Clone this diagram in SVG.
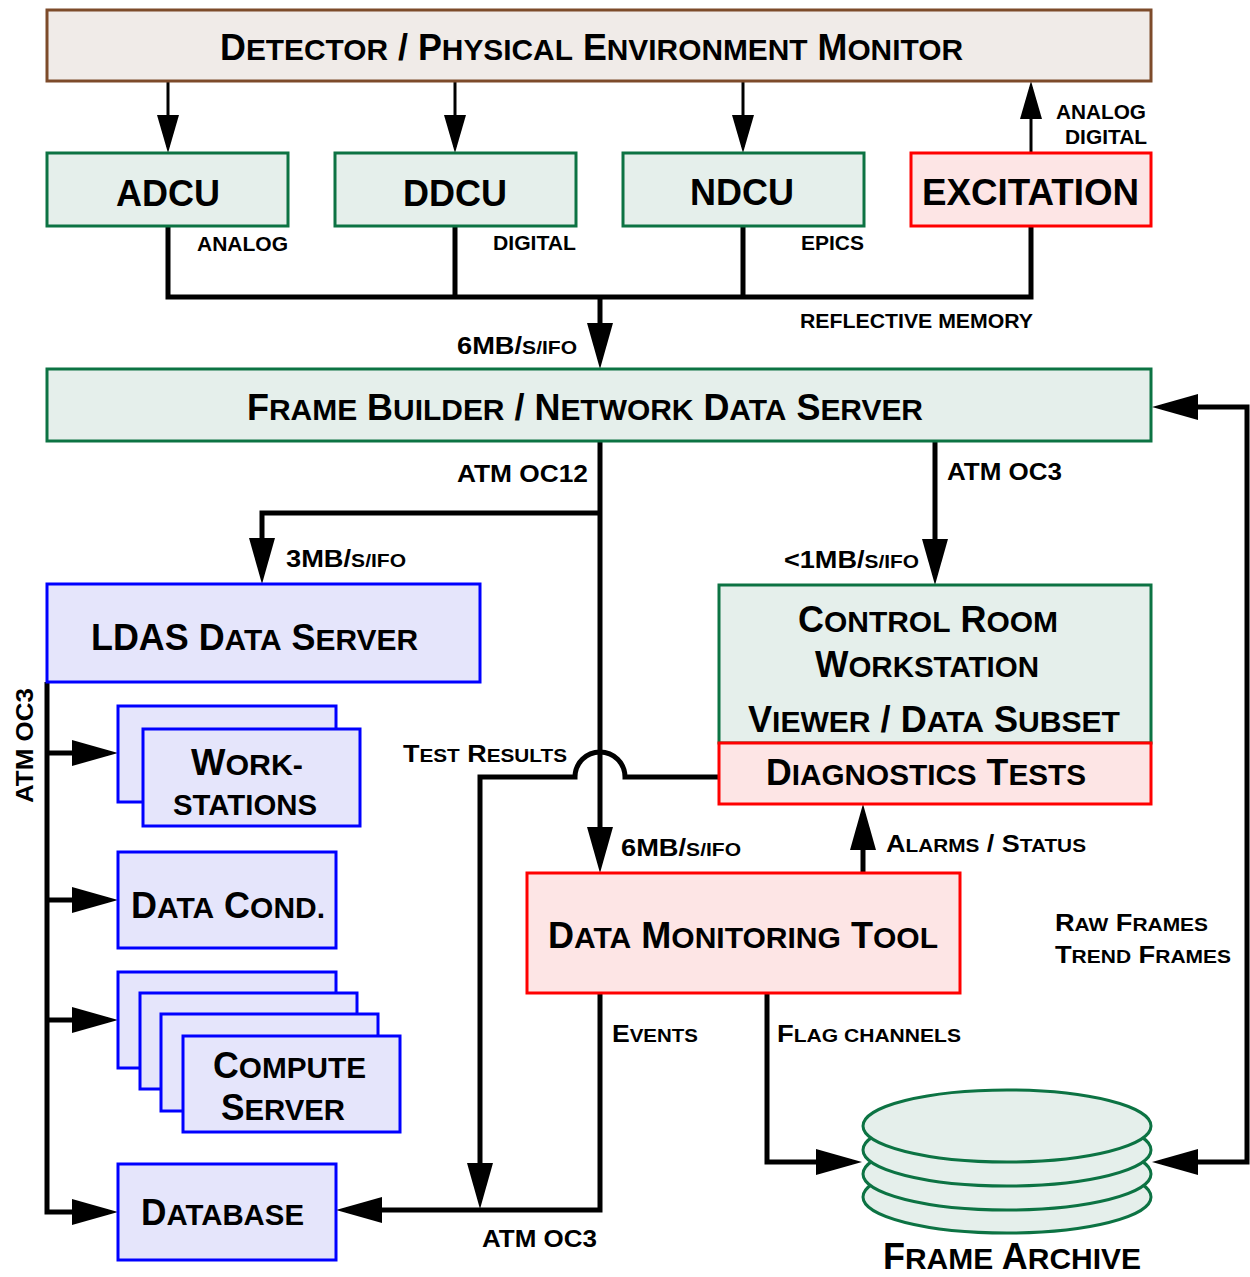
<svg xmlns="http://www.w3.org/2000/svg" width="1250" height="1277" viewBox="0 0 1250 1277">
<defs>
<style>
text{font-family:"Liberation Sans",Arial,Helvetica,sans-serif;font-weight:bold;fill:#000}
.b{font-size:36px}
.s{font-size:30px}
.m{font-size:24px}
.ms{font-size:18.5px}
.sm{font-size:21px}
.g{fill:#e5efeb;stroke:#0c7343;stroke-width:3}
.r{fill:#fde5e5;stroke:#ff0000;stroke-width:3}
.bl{fill:#e5e5fb;stroke:#0000ff;stroke-width:3}
.br{fill:#f0ebe8;stroke:#7d4b2a;stroke-width:3}
.c{fill:none;stroke:#000;stroke-width:5}
.ct{fill:none;stroke:#000;stroke-width:3}
</style>
<marker id="ak" markerUnits="userSpaceOnUse" markerWidth="46" markerHeight="26" viewBox="0 0 46 26" refX="36" refY="13" orient="auto-start-reverse"><path d="M0 0L46 13L0 26Z" fill="#000"/></marker>
<marker id="at" markerUnits="userSpaceOnUse" markerWidth="38" markerHeight="22" viewBox="0 0 38 22" refX="32" refY="11" orient="auto-start-reverse"><path d="M0 0L38 11L0 22Z" fill="#000"/></marker>
</defs>
<rect width="1250" height="1277" fill="#fff"/>

<g id="connectors">
<path class="ct" d="M168 81V147" marker-end="url(#at)"/>
<path class="ct" d="M455 81V147" marker-end="url(#at)"/>
<path class="ct" d="M743 81V147" marker-end="url(#at)"/>
<path class="ct" d="M1031 153V87" marker-end="url(#at)"/>
<path class="c" d="M168 226V297H1031V226M455 226V297M743 226V297"/>
<path class="c" d="M600 297V359" marker-end="url(#ak)"/>
<path class="c" d="M600 441V863" marker-end="url(#ak)"/>
<path class="c" d="M600 513H262V574" marker-end="url(#ak)"/>
<path class="c" d="M935 441V575" marker-end="url(#ak)"/>
<path class="c" d="M1162 407H1247V1162H1162" marker-start="url(#ak)" marker-end="url(#ak)"/>
<path class="c" d="M863 873V814" marker-end="url(#ak)"/>
<path class="c" d="M719 777H625A25 25 0 0 0 575 777H480V1199" marker-end="url(#ak)"/>
<path class="c" d="M600 993V1210H346" marker-end="url(#ak)"/>
<path class="c" d="M767 993V1162H852" marker-end="url(#ak)"/>
<path class="c" d="M47 682V1212H108" marker-end="url(#ak)"/>
<path class="c" d="M47 753H108" marker-end="url(#ak)"/>
<path class="c" d="M47 900H108" marker-end="url(#ak)"/>
<path class="c" d="M47 1020H108" marker-end="url(#ak)"/>
</g>

<g id="labels">
<text class="sm" x="197" y="251" textLength="91" lengthAdjust="spacingAndGlyphs">ANALOG</text>
<text class="sm" x="493" y="250" textLength="83" lengthAdjust="spacingAndGlyphs">DIGITAL</text>
<text class="sm" x="801" y="250" textLength="63" lengthAdjust="spacingAndGlyphs">EPICS</text>
<text class="sm" x="1056" y="119" textLength="90" lengthAdjust="spacingAndGlyphs">ANALOG</text>
<text class="sm" x="1065" y="144" textLength="82" lengthAdjust="spacingAndGlyphs">DIGITAL</text>
<text class="sm" x="800" y="328" textLength="233" lengthAdjust="spacingAndGlyphs">REFLECTIVE MEMORY</text>
<text class="m" x="457" y="354" textLength="120" lengthAdjust="spacingAndGlyphs">6MB/<tspan class="ms">S/IFO</tspan></text>
<text class="m" x="457" y="482" textLength="131" lengthAdjust="spacingAndGlyphs">ATM OC12</text>
<text class="m" x="947" y="480" textLength="115" lengthAdjust="spacingAndGlyphs">ATM OC3</text>
<text class="m" x="286" y="567" textLength="120" lengthAdjust="spacingAndGlyphs">3MB/<tspan class="ms">S/IFO</tspan></text>
<text class="m" x="784" y="568" textLength="135" lengthAdjust="spacingAndGlyphs">&lt;1MB/<tspan class="ms">S/IFO</tspan></text>
<text class="m" x="403" y="762" textLength="164" lengthAdjust="spacingAndGlyphs">T<tspan class="ms">EST</tspan> R<tspan class="ms">ESULTS</tspan></text>
<text class="m" x="621" y="856" textLength="120" lengthAdjust="spacingAndGlyphs">6MB/<tspan class="ms">S/IFO</tspan></text>
<text class="m" x="886" y="852" textLength="200" lengthAdjust="spacingAndGlyphs">A<tspan class="ms">LARMS</tspan> / S<tspan class="ms">TATUS</tspan></text>
<text class="m" x="1055" y="931" textLength="153" lengthAdjust="spacingAndGlyphs">R<tspan class="ms">AW</tspan> F<tspan class="ms">RAMES</tspan></text>
<text class="m" x="1055" y="963" textLength="176" lengthAdjust="spacingAndGlyphs">T<tspan class="ms">REND</tspan> F<tspan class="ms">RAMES</tspan></text>
<text class="m" x="612" y="1042" textLength="86" lengthAdjust="spacingAndGlyphs">E<tspan class="ms">VENTS</tspan></text>
<text class="m" x="777" y="1042" textLength="184" lengthAdjust="spacingAndGlyphs">F<tspan class="ms">LAG CHANNELS</tspan></text>
<text class="m" x="482" y="1247" textLength="115" lengthAdjust="spacingAndGlyphs">ATM OC3</text>
<text class="m" transform="translate(33 803) rotate(-90)" x="0" y="0" textLength="115" lengthAdjust="spacingAndGlyphs">ATM OC3</text>
</g>

<g id="monitor">
<rect class="br" x="47" y="10" width="1104" height="71"/>
<text class="b" x="220" y="60" textLength="743" lengthAdjust="spacingAndGlyphs">D<tspan class="s">ETECTOR</tspan> / P<tspan class="s">HYSICAL</tspan> E<tspan class="s">NVIRONMENT</tspan> M<tspan class="s">ONITOR</tspan></text>
</g>
<g id="adcu">
<rect class="g" x="47" y="153" width="241" height="73"/>
<text class="b" x="116" y="206" textLength="104" lengthAdjust="spacingAndGlyphs">ADCU</text>
</g>
<g id="ddcu">
<rect class="g" x="335" y="153" width="241" height="73"/>
<text class="b" x="403" y="206" textLength="104" lengthAdjust="spacingAndGlyphs">DDCU</text>
</g>
<g id="ndcu">
<rect class="g" x="623" y="153" width="241" height="73"/>
<text class="b" x="690" y="205" textLength="104" lengthAdjust="spacingAndGlyphs">NDCU</text>
</g>
<g id="excitation">
<rect class="r" x="911" y="153" width="240" height="73"/>
<text class="b" x="922" y="205" textLength="217" lengthAdjust="spacingAndGlyphs">EXCITATION</text>
</g>
<g id="framebuilder">
<rect class="g" x="47" y="369" width="1104" height="72"/>
<text class="b" x="247" y="420" textLength="676" lengthAdjust="spacingAndGlyphs">F<tspan class="s">RAME</tspan> B<tspan class="s">UILDER</tspan> / N<tspan class="s">ETWORK</tspan> D<tspan class="s">ATA</tspan> S<tspan class="s">ERVER</tspan></text>
</g>
<g id="ldas">
<rect class="bl" x="47" y="584" width="433" height="98"/>
<text class="b" x="91" y="650" textLength="327" lengthAdjust="spacingAndGlyphs">LDAS D<tspan class="s">ATA</tspan> S<tspan class="s">ERVER</tspan></text>
</g>
<g id="controlroom">
<rect class="g" x="719" y="585" width="432" height="158"/>
<text class="b" x="798" y="632" textLength="260" lengthAdjust="spacingAndGlyphs">C<tspan class="s">ONTROL</tspan> R<tspan class="s">OOM</tspan></text>
<text class="b" x="815" y="677" textLength="224" lengthAdjust="spacingAndGlyphs">W<tspan class="s">ORKSTATION</tspan></text>
<text class="b" x="748" y="732" textLength="372" lengthAdjust="spacingAndGlyphs">V<tspan class="s">IEWER</tspan> / D<tspan class="s">ATA</tspan> S<tspan class="s">UBSET</tspan></text>
</g>
<g id="diagnostics">
<rect class="r" x="719" y="743" width="432" height="61"/>
<text class="b" x="766" y="785" textLength="320" lengthAdjust="spacingAndGlyphs">D<tspan class="s">IAGNOSTICS</tspan> T<tspan class="s">ESTS</tspan></text>
</g>
<g id="workstations">
<rect class="bl" x="118" y="706" width="218" height="96"/>
<rect class="bl" x="143" y="729" width="217" height="97"/>
<text class="b" x="191" y="775" textLength="112" lengthAdjust="spacingAndGlyphs">W<tspan class="s">ORK-</tspan></text>
<text class="s" x="173" y="815" textLength="144" lengthAdjust="spacingAndGlyphs">STATIONS</text>
</g>
<g id="datacond">
<rect class="bl" x="118" y="852" width="218" height="96"/>
<text class="b" x="131" y="918" textLength="194" lengthAdjust="spacingAndGlyphs">D<tspan class="s">ATA</tspan> C<tspan class="s">OND.</tspan></text>
</g>
<g id="compute">
<rect class="bl" x="118" y="972" width="218" height="96"/>
<rect class="bl" x="140" y="993" width="217" height="96"/>
<rect class="bl" x="161" y="1014" width="217" height="97"/>
<rect class="bl" x="183" y="1036" width="217" height="96"/>
<text class="b" x="213" y="1078" textLength="153" lengthAdjust="spacingAndGlyphs">C<tspan class="s">OMPUTE</tspan></text>
<text class="b" x="221" y="1120" textLength="124" lengthAdjust="spacingAndGlyphs">S<tspan class="s">ERVER</tspan></text>
</g>
<g id="database">
<rect class="bl" x="118" y="1164" width="218" height="96"/>
<text class="b" x="141" y="1225" textLength="163" lengthAdjust="spacingAndGlyphs">D<tspan class="s">ATABASE</tspan></text>
</g>
<g id="dmt">
<rect class="r" x="527" y="873" width="433" height="120"/>
<text class="b" x="548" y="948" textLength="390" lengthAdjust="spacingAndGlyphs">D<tspan class="s">ATA</tspan> M<tspan class="s">ONITORING</tspan> T<tspan class="s">OOL</tspan></text>
</g>
<g id="archive">
<ellipse class="g" cx="1007" cy="1197" rx="144" ry="36"/>
<ellipse class="g" cx="1007" cy="1174" rx="144" ry="36"/>
<ellipse class="g" cx="1007" cy="1150" rx="144" ry="36"/>
<ellipse class="g" cx="1007" cy="1126" rx="144" ry="36"/>
<text class="b" x="883" y="1269" textLength="258" lengthAdjust="spacingAndGlyphs">F<tspan class="s">RAME</tspan> A<tspan class="s">RCHIVE</tspan></text>
</g>
</svg>
